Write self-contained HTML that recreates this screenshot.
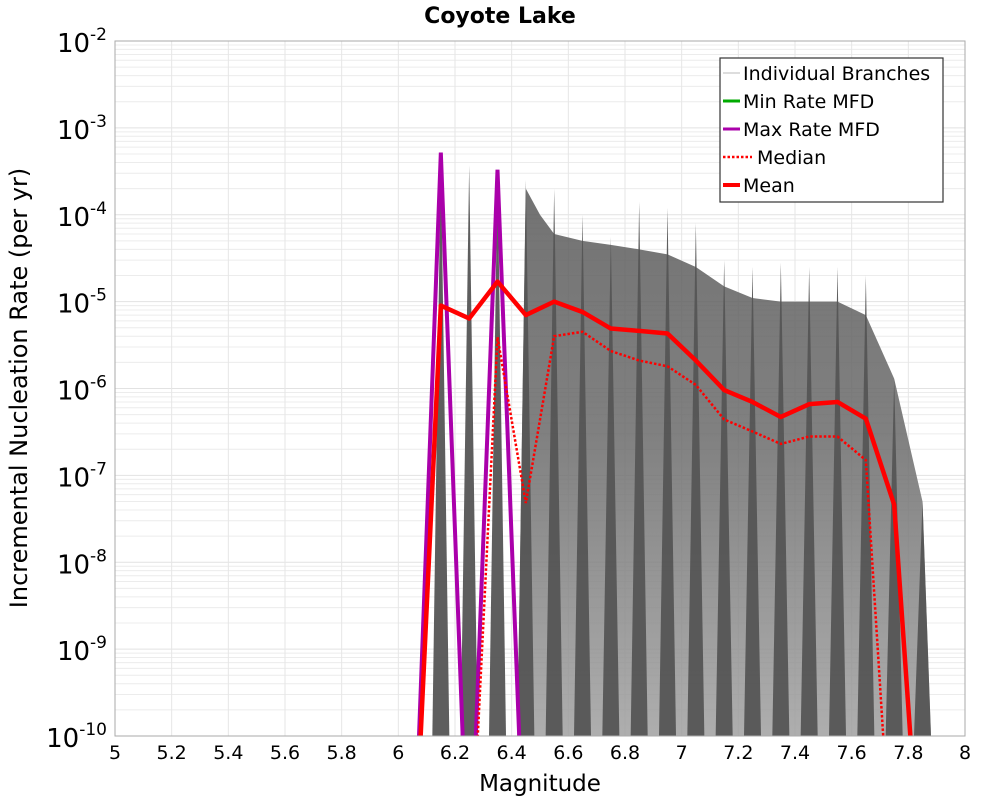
<!DOCTYPE html>
<html><head><meta charset="utf-8"><style>
html,body{margin:0;padding:0;background:#fff;overflow:hidden;width:1000px;height:800px}
svg{display:block}
</style></head><body>
<svg id="chart" width="1000" height="800" xmlns="http://www.w3.org/2000/svg" font-family="DejaVu Sans, Liberation Sans, sans-serif">
<text x="500" y="23" text-anchor="middle" font-size="22" font-weight="bold">Coyote Lake</text>
<g id="grid"></g>
<g id="marks"></g>
<rect x="115" y="41" width="850" height="695" fill="none" stroke="#aaa" stroke-width="1"/>
<g id="axes"></g>
<text x="540" y="791" text-anchor="middle" font-size="23">Magnitude</text>
<text transform="translate(27,388) rotate(-90)" text-anchor="middle" font-size="24">Incremental Nucleation Rate (per yr)</text>
<g>
<rect x="720" y="58" width="223" height="144" fill="#fff" stroke="#333" stroke-width="1.2"/>
<line x1="723" y1="73" x2="740" y2="73" stroke="#bbb" stroke-width="1"/>
<text x="743" y="80" font-size="19">Individual Branches</text>
<line x1="723" y1="101" x2="740" y2="101" stroke="#00aa00" stroke-width="3"/>
<text x="743" y="108" font-size="19">Min Rate MFD</text>
<line x1="723" y1="129" x2="740" y2="129" stroke="#aa00aa" stroke-width="3"/>
<text x="743" y="136" font-size="19">Max Rate MFD</text>
<line x1="723" y1="157" x2="752" y2="157" stroke="#f00" stroke-width="2.5" stroke-dasharray="2.5,2"/>
<text x="757" y="164" font-size="19">Median</text>
<line x1="723" y1="185" x2="740" y2="185" stroke="#f00" stroke-width="4"/>
<text x="743" y="192" font-size="19">Mean</text>
</g>
</svg>
<script>
const mags=[6.05,6.15,6.25,6.35,6.45,6.55,6.65,6.75,6.85,6.95,7.05,7.15,7.25,7.35,7.45,7.55,7.65,7.75,7.85,7.95];
const meanRates=[1e-12,9e-6,6.4e-6,1.7e-5,7e-6,1.0e-5,7.6e-6,4.9e-6,4.6e-6,4.3e-6,2.1e-6,9.6e-7,7e-7,4.7e-7,6.6e-7,7e-7,4.5e-7,4.6e-8,1e-12,1e-12];
const medianRates=[1e-12,1e-12,1e-12,3.9e-6,4.8e-8,4e-6,4.5e-6,2.7e-6,2.1e-6,1.8e-6,1.1e-6,4.4e-7,3.2e-7,2.3e-7,2.8e-7,2.8e-7,1.5e-7,1e-12,1e-12,1e-12];
const maxRates=[1e-12,5.2e-4,1e-12,3.3e-4,1e-12,1e-12,1e-12,1e-12,1e-12,1e-12,1e-12,1e-12,1e-12,1e-12,1e-12,1e-12,1e-12,1e-12,1e-12,1e-12];
const spikePeaks=[0,5e-4,3.7e-4,3.3e-4,2.5e-4,2.0e-4,1.0e-4,5.5e-5,1.4e-4,1.2e-4,8e-5,3e-5,2.5e-5,2.8e-5,2.5e-5,2.5e-5,2e-5,1.3e-6,5e-8,0];
const envelopeMags=[6.42,6.45,6.5,6.55,6.65,6.75,6.85,6.95,7.05,7.15,7.25,7.35,7.45,7.55,7.65,7.75,7.85,7.88];
const envelopeTop=[1e-10,2e-4,1e-4,6e-5,5e-5,4.5e-5,4e-5,3.5e-5,2.5e-5,1.5e-5,1.1e-5,1e-5,1e-5,1e-5,7e-6,1.3e-6,5e-8,1e-10];
const xTicks=[5,5.2,5.4,5.6,5.8,6,6.2,6.4,6.6,6.8,7,7.2,7.4,7.6,7.8,8];
const yExps=[-2,-3,-4,-5,-6,-7,-8,-9,-10];
const NS="http://www.w3.org/2000/svg";
const X0=115,X1=965,Y0=41,Y1=736;
function xs(m){return X0+(m-5)/3*(X1-X0);}
function ys(v){let l=Math.log10(Math.max(v,1e-13));return Y0+(-2-l)/8*(Y1-Y0);}
function mk(tag,attrs,parent){const e=document.createElementNS(NS,tag);for(const k in attrs)e.setAttribute(k,attrs[k]);parent.appendChild(e);return e;}
const grid=document.getElementById('grid'),marks=document.getElementById('marks'),axes=document.getElementById('axes');
const defs=mk('defs',{},document.getElementById('chart'));
const cp=mk('clipPath',{id:'clip'},defs);mk('rect',{x:X0,y:Y0,width:X1-X0,height:Y1-Y0},cp);
const lg=mk('linearGradient',{id:'envg',x1:0,y1:0,x2:0,y2:1},defs);
mk('stop',{offset:'0','stop-color':'#5a5a5a'},lg);mk('stop',{offset:'0.45','stop-color':'#6a6a6a'},lg);mk('stop',{offset:'1','stop-color':'#a0a0a0'},lg);
marks.setAttribute('clip-path','url(#clip)');
for(let d=-3;d>=-10;d--){for(let k=2;k<=9;k++){const y=ys(k*Math.pow(10,d));const l=mk('line',{x1:X0,x2:X1,y1:y,y2:y,stroke:'#ececec','stroke-width':1},grid);

}}
yExps.forEach(e=>{const y=ys(Math.pow(10,e));const l=mk('line',{x1:X0,x2:X1,y1:y,y2:y,stroke:'#e2e2e2','stroke-width':1},grid);


const t=mk('text',{x:X0-8,y:y+11,'text-anchor':'end','font-size':26},axes);


t.innerHTML='10<tspan dy="-12" font-size="17">'+e+'</tspan>';});
xTicks.forEach(v=>{const x=xs(v);const l=mk('line',{x1:x,x2:x,y1:Y0,y2:Y1,stroke:'#e6e6e6','stroke-width':1},grid);


const t=mk('text',{x:x,y:759,'text-anchor':'middle','font-size':19},axes);


t.textContent=String(v);});
let pts=envelopeMags.map((m,i)=>xs(m)+','+ys(envelopeTop[i]));
pts.push(xs(envelopeMags[envelopeMags.length-1])+','+Y1,xs(envelopeMags[0])+','+Y1);
const env=mk('polygon',{points:pts.join(' '),fill:'url(#envg)',opacity:0.85},marks);


mags.forEach((m,i)=>{if(spikePeaks[i]<=0)return;const w=0.03;
const p=mk('polygon',{points:xs(m-w)+','+Y1+' '+xs(m)+','+ys(spikePeaks[i])+' '+xs(m+w)+','+Y1,fill:'#555',opacity:0.95},marks);

});
function line(arr,attrs,name){const d=mags.map((m,i)=>(i?'L':'M')+xs(m)+','+ys(arr[i])).join(' ');
const p=mk('path',Object.assign({d:d,fill:'none'},attrs),marks);

}
line(maxRates,{stroke:'#aa00aa','stroke-width':4},'max-rate-line');
line(medianRates,{stroke:'#f00','stroke-width':2.5,'stroke-dasharray':'2.5,2'},'median-line');
line(meanRates,{stroke:'#f00','stroke-width':4.5,'stroke-linejoin':'round'},'mean-line');
</script>
</body></html>
